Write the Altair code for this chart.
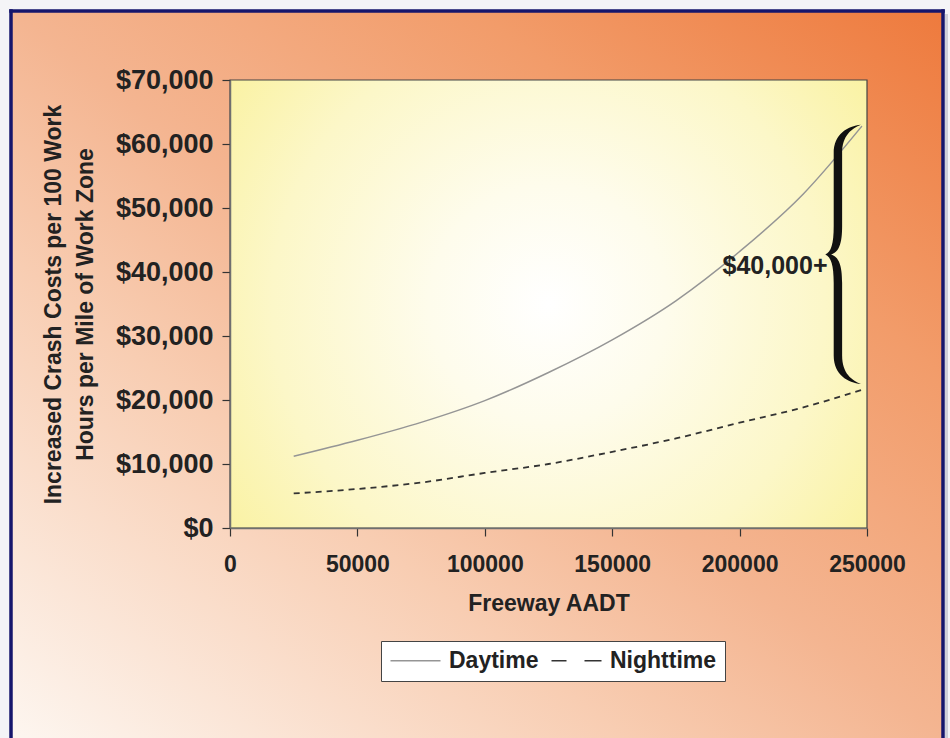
import altair as alt
import pandas as pd

# ---------------- data ----------------
aadt = [25000, 50000, 75000, 100000, 125000, 150000, 175000, 200000, 225000, 248000]
daytime = [11200, 13700, 16500, 19900, 24300, 29400, 35500, 43200, 52200, 62800]
nighttime = [5400, 6100, 7100, 8600, 10000, 11900, 14000, 16450, 18850, 21600]
series_names = ["Daytime", "Nighttime"]

x_ticks = [0, 50000, 100000, 150000, 200000, 250000]
y_ticks = [0, 10000, 20000, 30000, 40000, 50000, 60000, 70000]
x_title = "Freeway AADT"
y_title = ["Increased Crash Costs per 100 Work", "Hours per Mile of Work Zone"]

brace_label = "$40,000+"
brace_aadt = 241000
brace_low, brace_high = 22500, 63000
label_aadt = 234500
label_cost = 41000

# ---------------- layout ----------------
W, H = 637, 448
FONT = "Liberation Sans"
X_DOMAIN = [x_ticks[0], x_ticks[-1]]
Y_DOMAIN = [y_ticks[0], y_ticks[-1]]

rows = []
for a, d, n in zip(aadt, daytime, nighttime):
    rows.append({"AADT": a, "Cost": d, "Series": series_names[0]})
    rows.append({"AADT": a, "Cost": n, "Series": series_names[1]})
df = pd.DataFrame(rows)

one = alt.Data(values=[{}])

xscale = alt.Scale(domain=X_DOMAIN, nice=False, zero=False)
yscale = alt.Scale(domain=Y_DOMAIN, nice=False)

x_axis = alt.Axis(
    values=x_ticks, format="d", grid=False, tickSize=8, labelPadding=17,
    labelFlush=False, labelOverlap=False,
    domainColor="#6f6f6f", domainWidth=1.5, tickColor="#333", tickWidth=1.2,
    labelFont=FONT, labelFontSize=23, labelFontWeight="bold", labelColor="#222",
    titleFont=FONT, titleFontSize=23, titleFontWeight="bold", titleColor="#222",
    titlePadding=16, zindex=1,
)
y_axis = alt.Axis(
    values=y_ticks, format="$,.0f", grid=False, tickSize=8, labelPadding=9,
    labelFlush=False, labelOverlap=False,
    domainColor="#6f6f6f", domainWidth=1.5, tickColor="#333", tickWidth=1.2,
    labelFont=FONT, labelFontSize=27, labelFontWeight="bold", labelColor="#222",
    titleFont=FONT, titleFontSize=23, titleFontWeight="bold", titleColor="#222",
    titlePadding=18, titleLineHeight=32, zindex=1,
)


def xenc(field="AADT:Q"):
    return alt.X(field, scale=xscale, axis=x_axis, title=x_title)


def yenc(field="Cost:Q"):
    return alt.Y(field, scale=yscale, axis=y_axis, title=y_title)


# page background and framed panel
bg = alt.Chart(one).mark_rect(color="#F4F4F7").encode(
    x=alt.value(-230), x2=alt.value(720), y=alt.value(-80), y2=alt.value(658)
)
shadow = alt.Chart(one).mark_rect(color="#CFCFD8").encode(
    x=alt.value(715), x2=alt.value(718), y=alt.value(-66), y2=alt.value(658)
)
panel_grad = alt.LinearGradient(
    gradient="linear",
    stops=[
        alt.GradientStop(offset=0, color="#FDF6F0"),
        alt.GradientStop(offset=0.33, color="#F8CDB2"),
        alt.GradientStop(offset=0.5, color="#F4B591"),
        alt.GradientStop(offset=0.75, color="#F29C6A"),
        alt.GradientStop(offset=1, color="#EE7A3D"),
    ],
    x1=0, y1=1, x2=1, y2=0,
)
panel = alt.Chart(one).mark_rect(fill=panel_grad).encode(
    x=alt.value(-219), x2=alt.value(713), y=alt.value(-69), y2=alt.value(658)
)
NAVY = "#16166C"
border_l = alt.Chart(one).mark_rule(color=NAVY, strokeWidth=3.5).encode(
    x=alt.value(-219), y=alt.value(-70.75), y2=alt.value(658)
)
border_r = alt.Chart(one).mark_rule(color=NAVY, strokeWidth=3.5).encode(
    x=alt.value(713), y=alt.value(-70.75), y2=alt.value(658)
)
border_t = alt.Chart(one).mark_rule(color=NAVY, strokeWidth=3.5).encode(
    y=alt.value(-69), x=alt.value(-220.75), x2=alt.value(714.75)
)

plot_grad = alt.RadialGradient(
    gradient="radial",
    stops=[
        alt.GradientStop(offset=0, color="#FFFFFF"),
        alt.GradientStop(offset=0.3, color="#FEFCEC"),
        alt.GradientStop(offset=0.7, color="#FCF7C8"),
        alt.GradientStop(offset=1, color="#FAF2A2"),
    ],
    x1=0.5, y1=0.5, x2=0.5, y2=0.5, r1=0, r2=0.62,
)
frame = alt.Chart(one).mark_rect(fill=plot_grad, stroke="#444", strokeWidth=1.2).encode(
    x=alt.value(0), x2=alt.value(W), y=alt.value(0), y2=alt.value(H)
)

legend = alt.Legend(
    title=None, orient="none", legendX=151, legendY=561, direction="horizontal",
    symbolType="M -1 0 L 4 0", symbolSize=400, symbolStrokeWidth=1.6,
    symbolFillColor="transparent", symbolOpacity=1,
    labelFont=FONT, labelFontSize=23, labelFontWeight="bold", labelColor="#222",
    labelOffset=37, columnPadding=9, padding=8,
    fillColor="white", strokeColor="#444", zindex=1,
)

color_scale = alt.Scale(domain=series_names, range=["#959595", "#333333"])

day_line = alt.Chart(df).transform_filter(
    alt.datum.Series == series_names[0]
).mark_line(interpolate="monotone", strokeWidth=1.5).encode(
    x=xenc(), y=yenc(),
    color=alt.Color("Series:N", scale=color_scale, legend=legend),
)
night_line = alt.Chart(df).transform_filter(
    alt.datum.Series == series_names[1]
).mark_line(interpolate="monotone", strokeWidth=1.8, strokeDash=[6, 5]).encode(
    x=xenc(), y=yenc(),
    color=alt.Color("Series:N", scale=color_scale, legend=None),
)

# legend-only layer: supplies the solid / long-dash key symbols (no rows drawn)
legend_key = alt.Chart(alt.Data(values=[])).mark_point().encode(
    shape=alt.Shape(
        "Series:N",
        scale=alt.Scale(domain=series_names,
                        range=["M -1 0 L 4 0", "M -1 0 L 0.5 0 M 2.3 0 L 4 0"]),
        legend=legend,
    ),
)

BRACE = ("M 0.13 -1 C 0.03 -0.99 -0.08 -0.93 -0.08 -0.78 L -0.08 -0.22 "
         "C -0.08 -0.08 -0.1 -0.02 -0.145 0 C -0.1 0.02 -0.08 0.08 -0.08 0.22 "
         "L -0.08 0.78 C -0.08 0.93 0.03 0.99 0.13 1 "
         "C 0.06 0.97 -0.015 0.92 -0.015 0.78 L -0.015 0.22 "
         "C -0.015 0.08 -0.04 0.02 -0.1 0 C -0.04 -0.02 -0.015 -0.08 -0.015 -0.22 "
         "L -0.015 -0.78 C -0.015 -0.92 0.06 -0.97 0.13 -1 Z")
brace_px = (brace_high - brace_low) / (Y_DOMAIN[1] - Y_DOMAIN[0]) * H
brace_df = pd.DataFrame({"AADT": [brace_aadt], "Cost": [(brace_low + brace_high) / 2]})
brace = alt.Chart(brace_df).mark_point(
    shape=BRACE, filled=True, size=brace_px ** 2, opacity=1, color="#111", strokeWidth=0
).encode(x=xenc(), y=yenc())

label_df = pd.DataFrame({"AADT": [label_aadt], "Cost": [label_cost], "Text": [brace_label]})
label = alt.Chart(label_df).mark_text(
    align="right", baseline="middle", font=FONT, fontSize=25, fontWeight="bold", color="#222"
).encode(x=xenc(), y=yenc(), text="Text:N")

chart = alt.layer(
    bg, panel, shadow, border_l, border_r, border_t, frame,
    day_line, night_line, legend_key, brace, label
).properties(
    width=W, height=H, padding=0
).configure_view(stroke=None)

chart.save("out.html", embed_options={"renderer": "svg", "actions": False})
